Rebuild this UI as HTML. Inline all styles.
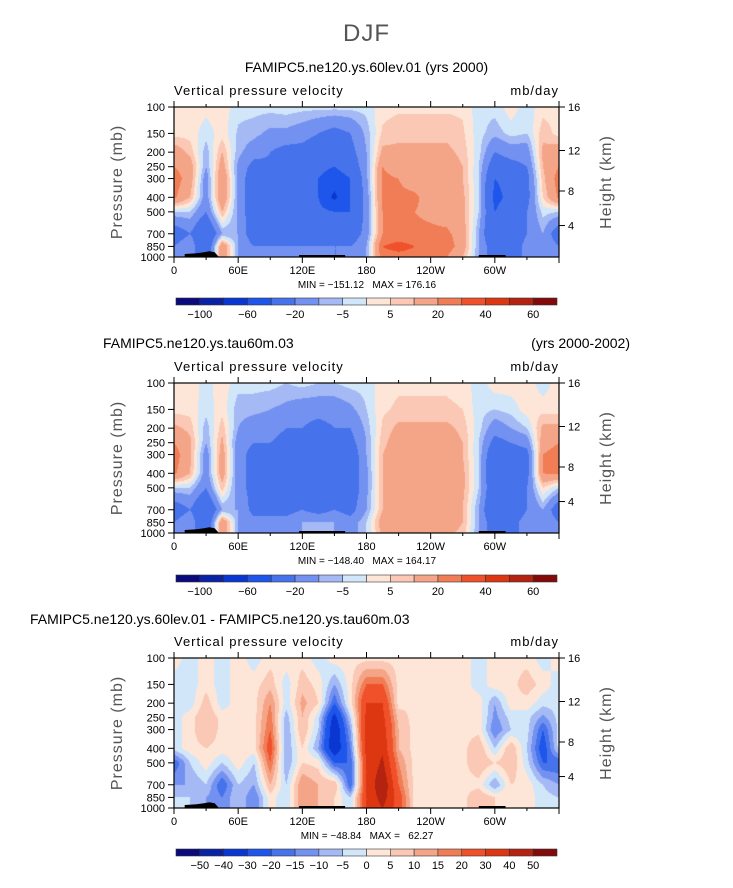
<!DOCTYPE html>
<html><head><meta charset="utf-8">
<style>
body{margin:0;background:#fff;}
#wrap{position:relative;width:733px;height:888px;overflow:hidden;font-family:"Liberation Sans",sans-serif;}
.t{position:absolute;white-space:nowrap;color:#000;}
canvas{position:absolute;left:0;top:0;}
</style></head>
<body>
<div id="wrap">
<canvas id="cv" width="733" height="888"></canvas>
<svg id="sv" width="733" height="888" style="position:absolute;left:0;top:0"></svg>
<div class="t" style="left:0;width:733px;text-align:center;top:20px;font-size:24px;color:#555;font-weight:300;letter-spacing:1px;">DJF</div>
<div class="t" style="left:0;width:733px;text-align:center;top:59px;font-size:14px;">FAMIPC5.ne120.ys.60lev.01 (yrs 2000)</div>
<div class="t" style="left:103px;top:335px;font-size:14px;">FAMIPC5.ne120.ys.tau60m.03</div>
<div class="t" style="right:103px;top:335px;font-size:14px;">(yrs 2000-2002)</div>
<div class="t" style="left:30px;top:611px;font-size:14px;">FAMIPC5.ne120.ys.60lev.01 - FAMIPC5.ne120.ys.tau60m.03</div>
</div>
<script>
const levels=[100,150,200,250,300,400,500,700,850,1000];
const lons=[0,15,30,45,60,75,90,105,120,135,150,165,180,195,210,225,240,255,270,285,300,315,330,345,360];
const p1=[
[3,3,2,3,-3,-3,-3,-2,-3,-3,-3,-3,-3,3,4,4,4,4,4,-3,-3,3,-3,3,3],
[3,3,-3,3,-6,-8,-12,-12,-15,-20,-25,-20,-8,6,8,8,8,8,6,-3,-8,-3,-5,8,3],
[15,8,-8,10,-8,-15,-20,-25,-25,-30,-30,-25,-10,12,12,12,12,12,8,-3,-20,-15,-15,12,15],
[20,15,-10,15,-12,-25,-22,-30,-28,-35,-40,-30,-12,20,15,15,15,15,10,-5,-30,-25,-20,10,20],
[25,15,-15,20,-12,-30,-22,-35,-28,-40,-50,-40,-12,22,20,15,18,15,10,-5,-40,-35,-25,8,25],
[22,10,-15,20,-12,-30,-22,-35,-28,-40,-65,-40,-15,22,22,22,15,15,12,-5,-45,-35,-25,5,22],
[-5,-5,-20,10,-12,-30,-25,-30,-28,-35,-40,-40,-15,20,20,20,18,15,12,-5,-40,-30,-20,-3,-5],
[-30,-20,-40,-10,-10,-30,-25,-30,-22,-30,-25,-30,-15,20,22,22,22,22,15,-10,-40,-35,-20,-10,-30],
[-20,-10,-40,20,-10,-20,-20,-20,-20,-20,-20,-20,-10,30,35,30,30,25,15,-10,-30,-30,-15,-10,-20],
[-20,-10,-40,20,-10,-20,-20,-20,-20,-20,-20,-20,-10,25,25,25,25,20,10,-10,-30,-30,-15,-10,-20]];
const p2=[
[3,3,-2,3,-3,-3,-3,-5,-3,-5,-5,-3,-3,3,4,4,4,4,3,-3,3,3,3,-3,3],
[3,3,-3,3,-8,-8,-10,-12,-15,-15,-15,-12,-5,4,6,6,6,6,5,-3,-5,-3,3,3,3],
[12,8,-8,8,-10,-15,-15,-20,-20,-25,-20,-20,-8,6,12,12,12,12,8,-3,-15,-10,-5,12,12],
[20,12,-10,12,-15,-20,-20,-25,-25,-30,-25,-25,-10,8,15,15,15,15,10,-5,-25,-20,-15,15,20],
[25,12,-15,15,-15,-25,-25,-30,-25,-30,-30,-30,-10,10,15,15,15,15,10,-5,-35,-30,-25,20,25],
[22,10,-15,15,-15,-25,-25,-30,-25,-35,-40,-30,-12,10,15,15,15,15,12,-5,-40,-30,-25,20,22],
[-5,-5,-20,8,-15,-25,-25,-30,-25,-30,-30,-30,-12,10,15,15,15,15,12,-5,-35,-25,-20,5,-5],
[-30,-20,-40,-10,-10,-25,-25,-25,-20,-25,-20,-25,-10,10,15,15,15,12,10,-10,-40,-30,-20,-10,-30],
[-20,-10,-40,20,-10,-15,-15,-15,-10,-10,-10,-15,-5,15,20,20,15,15,10,-10,-30,-25,-15,-10,-20],
[-20,-10,-40,20,-10,-15,-15,-15,-10,-10,-10,-15,-5,12,15,15,12,12,8,-10,-30,-25,-15,-10,-20]];
const p3=[
[3,-3,3,-3,3,-3,3,3,3,-3,3,3,3,3,3,3,3,3,3,-3,3,3,3,-3,3],
[-3,-3,3,-3,3,3,8,-3,8,3,-10,3,20,20,3,3,3,3,3,-3,3,3,8,3,-3],
[-3,-3,8,-3,3,3,15,-3,12,5,-20,3,30,30,3,5,3,3,3,3,-10,3,3,-3,-3],
[-3,3,10,3,3,3,18,-8,10,-3,-35,-5,33,33,8,3,3,3,3,3,-12,-3,-3,-12,-3],
[-3,3,10,3,3,3,20,-10,10,-5,-40,-10,35,35,10,3,3,3,3,3,-15,-5,-3,-20,-3],
[-3,3,5,3,3,3,25,-10,5,-10,-40,-15,35,38,10,3,3,3,3,10,-5,10,-5,-25,-3],
[-20,-5,3,-5,3,-5,20,-10,5,3,-20,-20,30,42,15,3,3,3,3,10,5,10,-3,-20,-20],
[-10,-10,-5,-20,-5,-10,10,-5,15,10,10,-20,30,50,20,3,3,5,3,3,-10,5,3,-5,-10],
[-5,-5,-10,-15,-5,-15,3,-5,15,10,5,-5,30,45,25,3,3,3,3,10,5,3,3,-3,-5],
[-5,-5,-10,-15,-5,-15,3,-5,15,10,5,-5,30,40,25,3,3,3,3,10,5,3,3,-3,-5]];
const bounds1=[-100,-80,-60,-40,-20,-10,-5,0,5,10,20,30,40,50,60];
const bounds3=[-50,-40,-30,-20,-15,-10,-5,0,5,10,15,20,30,40,50];
const cbLabels1=["-100","-60","-20","-5","5","20","40","60"];
const cbLabelIdx1=[1,3,5,7,9,11,13,15];
const cbLabels3=["-50","-40","-30","-20","-15","-10","-5","0","5","10","15","20","30","40","50"];
const cbLabelIdx3=[1,2,3,4,5,6,7,8,9,10,11,12,13,14,15];
const minmax=["MIN = \u2212151.12   MAX = 176.16","MIN = \u2212148.40   MAX = 164.17","MIN = \u221248.84   MAX =   62.27"];
const lonTicks=[0,60,120,180,240,300];
const lonTickLabels=["0","60E","120E","180","120W","60W"];
const presTicks=[100,150,200,250,300,400,500,700,850,1000];
const heightPres=[617,363,195,100];
const heightLabels=["4","8","12","16"];
const colors=['#0a0a7d','#0a23a5','#0a37d2','#1e55eb','#4673eb','#7391f0','#a5b9f5','#d2e6fa','#fde6d7','#fac8b4','#f5a587','#f07d55','#f0502a','#dc3710','#b4230f','#820a0a'];
const panels=[{top:107,bot:257,data:p1,b:bounds1,cbY:298,cl:cbLabels1,ci:cbLabelIdx1},
{top:383,bot:533,data:p2,b:bounds1,cbY:575,cl:cbLabels1,ci:cbLabelIdx1},
{top:658,bot:808,data:p3,b:bounds3,cbY:849,cl:cbLabels3,ci:cbLabelIdx3}];
const X0=174,X1=559,CB0=176,CB1=557;
const xOf=l=>X0+(l/360)*(X1-X0);
const yOf=(p,P)=>P.top+Math.log10(p/100)*(P.bot-P.top);
const ctx=document.getElementById('cv').getContext('2d');
const sv=document.getElementById('sv');
const NS='http://www.w3.org/2000/svg';
function mk(tag,at,txt){const e=document.createElementNS(NS,tag);for(const k in at)e.setAttribute(k,at[k]);if(txt!=null)e.textContent=txt;sv.appendChild(e);return e;}
function valAt(data,lon,p){
 let i=Math.min(Math.floor(lon/15),lons.length-2);let fx=(lon-lons[i])/15;
 const lp=Math.log(p);let j=0;while(j<levels.length-2&&levels[j+1]<p)j++;
 let fy=(lp-Math.log(levels[j]))/(Math.log(levels[j+1])-Math.log(levels[j]));fy=Math.max(0,Math.min(1,fy));
 const a=data[j][i],b=data[j][i+1],c=data[j+1][i],d=data[j+1][i+1];
 return (a*(1-fx)+b*fx)*(1-fy)+(c*(1-fx)+d*fx)*fy;}
function cls(v,b){let k=0;while(k<b.length&&v>=b[k])k++;return k;}
panels.forEach((P,pi)=>{
 for(let x=X0;x<X1;x++){const lon=(x+0.5-X0)/(X1-X0)*360;
  for(let y=P.top;y<P.bot;y++){const p=100*Math.pow(10,(y+0.5-P.top)/(P.bot-P.top));
   ctx.fillStyle=colors[cls(valAt(P.data,lon,p),P.b)];ctx.fillRect(x,y,1,1);}}
 const tb=[[10,955],[20,945],[28,930],[33,915],[38,930],[42,1000]];
 let path='M'+xOf(10)+','+P.bot;tb.forEach(t=>path+=' L'+xOf(t[0])+','+yOf(t[1],P));path+='Z';
 let e=mk('path',{d:path,fill:'#000'});
 
 
 e=mk('rect',{x:xOf(117),y:P.bot-2,width:xOf(160)-xOf(117),height:2,fill:'#000'});
 
 
 e=mk('rect',{x:xOf(285),y:P.bot-2,width:xOf(310)-xOf(285),height:2,fill:'#000'});
 
 
 e=mk('rect',{x:X0,y:P.top,width:X1-X0,height:P.bot-P.top,fill:'none',stroke:'#000','stroke-width':1.2});
 
 
 for(let l=0;l<=360;l+=30){const x=xOf(l),len=l%60?3:6;
  mk('line',{x1:x,x2:x,y1:P.top,y2:P.top-len,stroke:'#000'});mk('line',{x1:x,x2:x,y1:P.bot,y2:P.bot+len,stroke:'#000'});}
 lonTicks.forEach((l,k)=>{e=mk('text',{x:xOf(l),y:P.bot+17,'text-anchor':'middle','font-size':11,'font-family':'Liberation Sans'},lonTickLabels[k]);
  
  });
 presTicks.forEach(p=>{const y=yOf(p,P);mk('line',{x1:X0,x2:X0-6,y1:y,y2:y,stroke:'#000'});
  e=mk('text',{x:X0-9,y:y+4,'text-anchor':'end','font-size':11,'font-family':'Liberation Sans'},String(p));
  
  });
 heightPres.forEach((p,k)=>{const y=yOf(p,P);mk('line',{x1:X1,x2:X1+6,y1:y,y2:y,stroke:'#000'});
  e=mk('text',{x:X1+9,y:y+4,'font-size':11,'font-family':'Liberation Sans'},heightLabels[k]);
  
  });
 const cy=(P.top+P.bot)/2;
 e=mk('text',{x:0,y:0,transform:`translate(${X0-52},${cy}) rotate(-90)`,'text-anchor':'middle','font-size':16,fill:'#555','font-family':'Liberation Sans','letter-spacing':'1'},'Pressure (mb)');
 
 
 e=mk('text',{x:0,y:0,transform:`translate(${X1+52},${cy}) rotate(-90)`,'text-anchor':'middle','font-size':16,fill:'#555','font-family':'Liberation Sans','letter-spacing':'1'},'Height (km)');
 
 
 e=mk('text',{x:X0,y:P.top-12,'font-size':13,'font-family':'Liberation Sans','letter-spacing':'1'},'Vertical pressure velocity');
 
 
 e=mk('text',{x:X1,y:P.top-12,'text-anchor':'end','font-size':13,'font-family':'Liberation Sans','letter-spacing':'1'},'mb/day');
 
 
 e=mk('text',{x:367,y:P.bot+31,'text-anchor':'middle','font-size':10,'font-family':'Liberation Sans',style:'white-space:pre'},minmax[pi]);
 
 
 const w=(CB1-CB0)/colors.length;
 colors.forEach((c,k)=>{e=mk('rect',{x:CB0+k*w,y:P.cbY,width:w,height:7,fill:c,stroke:'#333','stroke-width':0.6});
  
  });
 P.cl.forEach((t,k)=>{e=mk('text',{x:CB0+P.ci[k]*w,y:P.cbY+20,'text-anchor':'middle','font-size':11,'font-family':'Liberation Sans'},t.replace('-','\u2212'));
  
  });
});
</script>
</body></html>
